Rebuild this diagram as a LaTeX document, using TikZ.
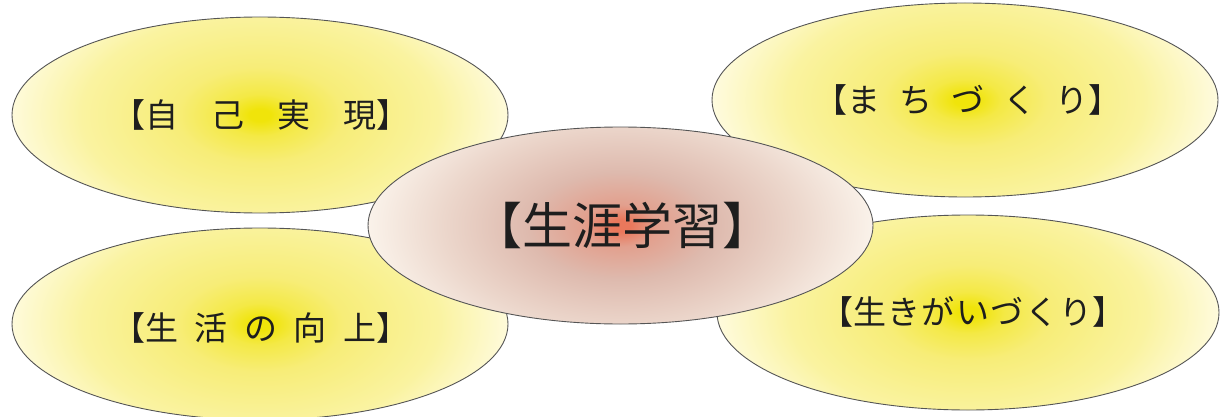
\documentclass[tikz,border=0pt]{standalone}
\usepackage{fontspec}
\newfontfamily\cjk{Noto Sans CJK JP}
\usetikzlibrary{shapes.geometric}
\definecolor{linegray}{RGB}{85,85,85}
\definecolor{textcol}{RGB}{30,30,30}
\definecolor{ycore}{RGB}{240,228,10}
\definecolor{ynear}{RGB}{244,233,70}
\definecolor{ymid}{RGB}{247,237,120}
\definecolor{ylight}{RGB}{250,243,160}
\definecolor{yedge}{RGB}{255,252,230}
\definecolor{pcore}{RGB}{234,120,92}
\definecolor{pnear}{RGB}{226,160,142}
\definecolor{pmid}{RGB}{222,186,174}
\definecolor{plight}{RGB}{236,215,204}
\definecolor{pedge}{RGB}{252,246,238}
\pgfdeclareradialshading{yelshade}{\pgfpoint{0bp}{0bp}}{color(0bp)=(ycore); color(1bp)=(ycore); color(3.5bp)=(ynear); color(8bp)=(ymid); color(17bp)=(ylight); color(25bp)=(yedge); color(50bp)=(yedge)}
\pgfdeclareradialshading{pinkshade}{\pgfpoint{0bp}{0bp}}{color(0bp)=(pcore); color(1bp)=(pcore); color(3.5bp)=(pnear); color(9bp)=(pmid); color(17bp)=(plight); color(25bp)=(pedge); color(50bp)=(pedge)}
\tikzset{
  bubble/.style={ellipse, draw=linegray, line width=0.9pt, inner sep=0pt},
  yelbubble/.style={bubble, path picture={\shade[shading=yelshade] (path picture bounding box.center) ellipse [x radius=262pt, y radius=150pt];}},
  pinkbubble/.style={bubble, path picture={\shade[shading=pinkshade] (path picture bounding box.center) ellipse [x radius=262pt, y radius=150pt];}},
  lbl/.style={font=\cjk\fontsize{33}{33}\selectfont, text=textcol, inner sep=0pt},
  biglbl/.style={font=\cjk\fontsize{50}{50}\selectfont, text=textcol, inner sep=0pt}
}
\begin{document}
\begin{tikzpicture}[x=1pt,y=-1pt]
\useasboundingbox (0,0) rectangle (1220,417);
\fill[white] (0,0) rectangle (1220,417);
\node[yelbubble, minimum width=496pt, minimum height=196pt] (e1) at (260,115) {};
\node[yelbubble, minimum width=506pt, minimum height=194pt] (e2) at (965,100) {};
\node[yelbubble, minimum width=496pt, minimum height=192pt] (e4) at (260,324) {};
\node[yelbubble, minimum width=502pt, minimum height=195pt] (e5) at (968,312.5) {};
\node[pinkbubble, minimum width=505pt, minimum height=197pt] (e3) at (620.5,225.5) {};
\node[lbl] (t1) at (260.5,115) {【自\hspace{33pt}己\hspace{33pt}実\hspace{33pt}現】};
\node[lbl] (t2) at (968,100) {【ま\hspace{19pt}ち\hspace{19pt}づ\hspace{19pt}く\hspace{19pt}り】};
\node[lbl] (t4) at (260.5,328) {【生\hspace{16.5pt}活\hspace{16.5pt}の\hspace{16.5pt}向\hspace{16.5pt}上】};
\node[lbl] (t5) at (973,312) {【生\hspace{1.5pt}き\hspace{1.5pt}が\hspace{1.5pt}い\hspace{1.5pt}づ\hspace{1.5pt}く\hspace{1.5pt}り】};
\node[biglbl] (t3) at (622,225) {【生涯学習】};
\end{tikzpicture}
\end{document}
